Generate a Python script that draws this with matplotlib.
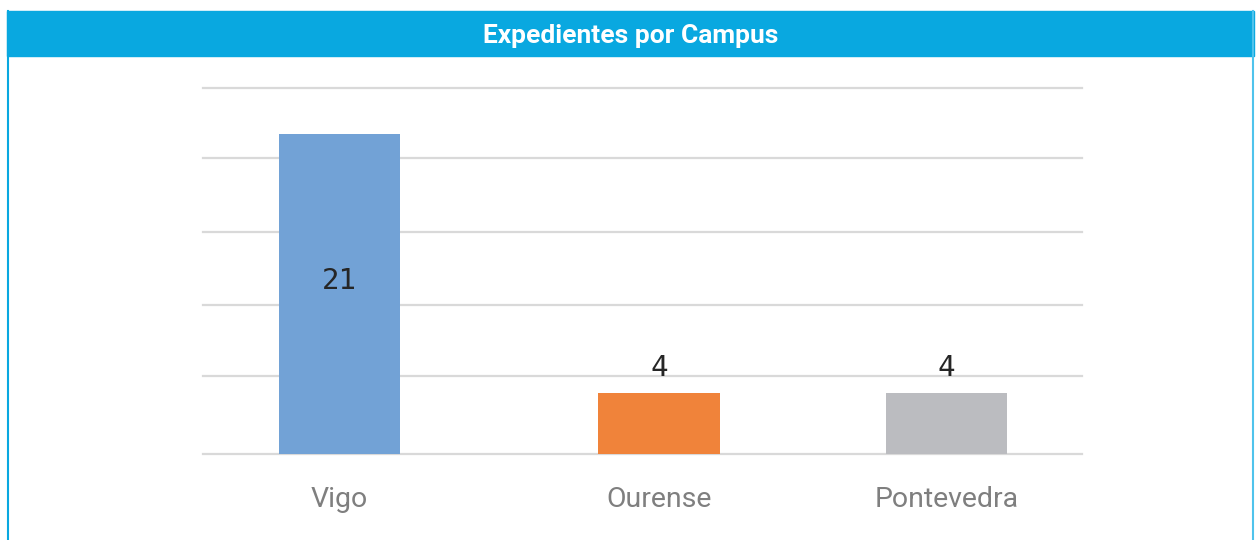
import matplotlib.pyplot as plt
from matplotlib.patches import Rectangle
from matplotlib.lines import Line2D

# data
campus = ['Vigo', 'Ourense', 'Pontevedra']
expedientes = [21, 4, 4]
bar_colors = ['#72A2D6', '#F0833A', '#BBBCC0']

# layout (bar centres are not evenly spaced in the original)
x_pos = [0, 1, 1.9]
grid_levels = [0, 5.1, 9.8, 14.6, 19.4, 24.0]

header_blue = '#09A8E0'

fig = plt.figure(figsize=(12.56, 5.40), dpi=100)
W, H = 1256, 540

# header band and side borders
fig.patches.append(Rectangle((7 / W, 1 - 56 / H), 1247 / W, 45 / H,
                             transform=fig.transFigure, color=header_blue, zorder=0))
fig.lines.append(Line2D([8 / W, 8 / W], [0, 1 - 11 / H], transform=fig.transFigure,
                        color=header_blue, lw=1.5))
fig.lines.append(Line2D([1253 / W, 1253 / W], [0, 1 - 11 / H], transform=fig.transFigure,
                        color='#4FC3EC', lw=1.5))
fig.text(631 / W, 1 - 36 / H, 'Expedientes por Campus', color='white',
         family='Roboto', weight='bold', fontsize=19, ha='center', va='center')

ax = fig.add_axes([203 / W, 1 - 454 / H, 879 / W, 366 / H])
ax.set_xlim(-0.427, 2.324)
ax.set_ylim(0, 24.02)

for g in grid_levels:
    ax.axhline(g, color='#D9D9D9', lw=1.6, zorder=0, clip_on=False)

ax.bar(x_pos, expedientes, width=0.379, color=bar_colors, zorder=2)

for x, v in zip(x_pos, expedientes):
    if v > 10:
        ax.text(x, v * 0.54, str(v), ha='center', va='center',
                family='DejaVu Sans Mono', fontsize=21, color='#262626', zorder=3)
    else:
        ax.text(x, v + 1.1, str(v), ha='center', va='baseline',
                family='DejaVu Sans Mono', fontsize=21, color='#262626', zorder=3)

ax.set_xticks(x_pos)
ax.set_xticklabels(campus, family='Roboto', fontsize=20.5, color='#7F7F7F')
ax.tick_params(length=0, pad=23)
ax.set_yticks([])
for s in ax.spines.values():
    s.set_visible(False)

fig.savefig('out.png', dpi=100)
